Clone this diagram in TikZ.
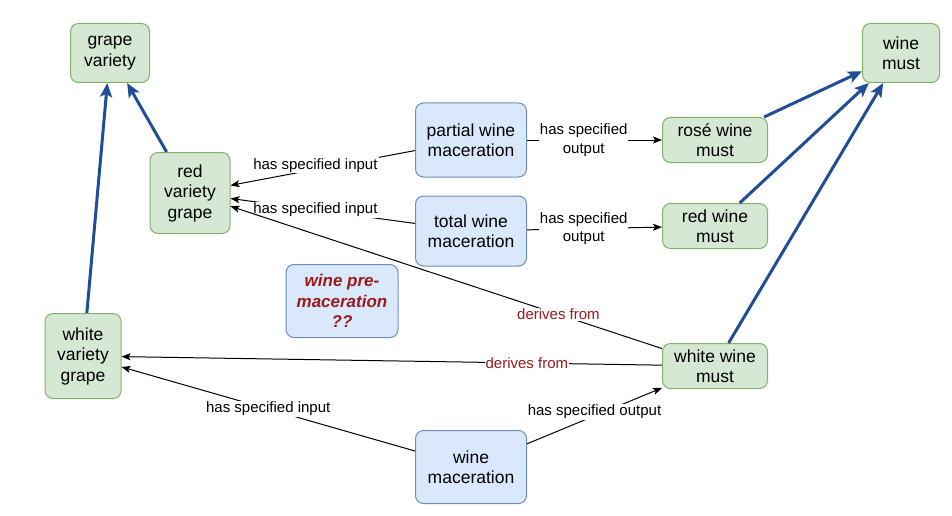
\documentclass[tikz,border=0pt]{standalone}
\usepackage{fontspec}
\setmainfont{Liberation Sans}
\usetikzlibrary{arrows.meta}
\definecolor{gfill}{HTML}{D5E8D4}
\definecolor{gline}{HTML}{82B366}
\definecolor{bfill}{HTML}{DAE8FC}
\definecolor{bline}{HTML}{6C8EBF}
\definecolor{isa}{HTML}{1F4E96}
\definecolor{drel}{HTML}{9A1B1B}
\tikzset{
  box/.style={rounded corners=8pt, line width=1pt, inner sep=0pt, align=center,
    font=\fontsize{17.5}{20.5}\selectfont},
  gbox/.style={box, draw=gline, fill=gfill},
  bbox/.style={box, draw=bline, fill=bfill},
  rel/.style={draw=black, line width=1pt, -{Stealth[length=9pt,width=7pt,inset=2pt]}},
  isarrow/.style={draw=isa, line width=3pt, -{Stealth[length=14pt,width=12pt,inset=3pt]}},
  lab/.style={fill=white, inner sep=1pt, align=center, font=\fontsize{15}{18.5}\selectfont},
  rlab/.style={lab, text=drel}
}
\begin{document}
\begin{tikzpicture}[x=1pt,y=-1pt]
\useasboundingbox (0,0) rectangle (952,516);
\node[gbox, minimum width=79pt, minimum height=59pt] (gv) at (110,53) {grape\\variety};
\node[gbox, minimum width=80pt, minimum height=81pt] (rvg) at (190,193) {red\\variety\\grape};
\node[gbox, minimum width=76pt, minimum height=85pt] (wvg) at (83,356) {white\\variety\\grape};
\node[bbox, minimum width=111pt, minimum height=74pt] (pwm) at (471,140) {partial wine\\maceration};
\node[bbox, minimum width=111pt, minimum height=70pt] (twm) at (471,231) {total wine\\maceration};
\node[bbox, minimum width=111pt, minimum height=73pt] (wm) at (471,467) {wine\\maceration};
\node[bbox, minimum width=112pt, minimum height=73pt, text=drel, font=\fontsize{17}{20.5}\selectfont\bfseries\itshape] (wpm) at (342,301) {wine pre-\\maceration\\??};
\node[gbox, minimum width=105pt, minimum height=45pt] (rwm) at (715,140) {rosé wine\\must};
\node[gbox, minimum width=105pt, minimum height=45pt] (rdwm) at (715,226) {red wine\\must};
\node[gbox, minimum width=105pt, minimum height=45pt] (wwm) at (715,366) {white wine\\must};
\node[gbox, minimum width=77pt, minimum height=59pt] (wmust) at (901,53) {wine\\must};

\draw[isarrow] (wvg) -- (gv);
\draw[isarrow] (rvg) -- (gv);
\draw[isarrow] (rwm) -- (wmust);
\draw[isarrow] (rdwm) -- (wmust);
\draw[isarrow] (wwm) -- (wmust);

\draw[rel] (pwm) -- node[lab, pos=0.54, yshift=4pt] {has specified input} (rvg);
\draw[rel] (twm) -- node[lab, pos=0.54] {has specified input} (rvg);
\draw[rel] (wwm) -- node[rlab, pos=0.24] {derives from} (rvg);
\draw[rel] (wwm) -- node[rlab, pos=0.25] {derives from} (wvg);
\draw[rel] (wm) -- node[lab, pos=0.5] {has specified input} (wvg);
\draw[rel] (wm) -- node[lab, pos=0.5, yshift=4pt] {has specified output} (wwm);
\draw[rel] (pwm) -- node[lab, pos=0.42] {has specified\\output} (rwm);
\draw[rel] (twm) -- node[lab, pos=0.42] {has specified\\output} (rdwm);
\end{tikzpicture}
\end{document}
